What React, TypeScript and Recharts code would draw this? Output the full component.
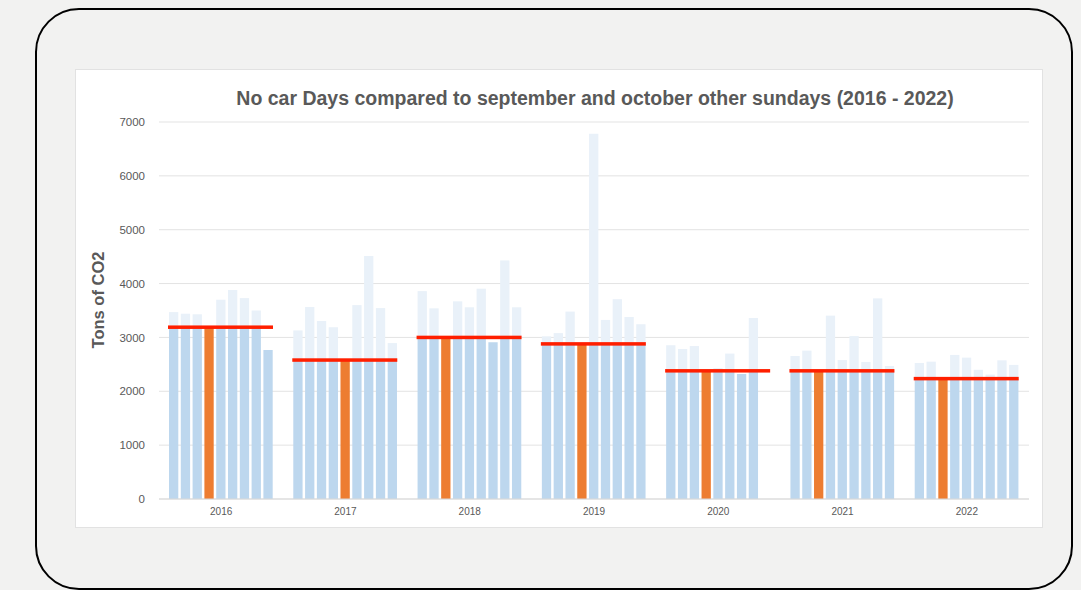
import React from 'react'
import { ComposedChart, XAxis, YAxis, CartesianGrid, Bar, Cell } from 'recharts'

// years on the category axis
const years = ['2016', '2017', '2018', '2019', '2020', '2021', '2022']

// CO2 on the no car day of each year (red line / orange bar)
const noCarDay = [3190, 2580, 3000, 2880, 2380, 2380, 2235]

// position of the no car day among that year's sundays
const noCarSlot = [3, 4, 2, 3, 3, 2, 2]

// other september / october sundays, null where the no car day sits
const sundays2016 = [3470, 3440, 3430, null, 3700, 3880, 3730, 3500, 2765]
const sundays2017 = [3130, 3565, 3305, 3190, null, 3600, 4510, 3545, 2895]
const sundays2018 = [3860, 3540, null, 3670, 3560, 3905, 2910, 4430, 3560]
const sundays2019 = [3020, 3080, 3480, null, 6780, 3325, 3710, 3380, 3245]
const sundays2020 = [2855, 2785, 2840, null, 2430, 2700, 2320, 3360, null]
const sundays2021 = [2655, 2755, null, 3405, 2580, 3025, 2545, 3725, 2470]
const sundays2022 = [2525, 2550, null, 2675, 2625, 2400, 2310, 2575, 2490]

const sundays = [sundays2016, sundays2017, sundays2018, sundays2019, sundays2020, sundays2021, sundays2022]

const yTicks = [0, 1000, 2000, 3000, 4000, 5000, 6000, 7000]

const SLOTS = 9

const BLUE = '#bdd7ee'
const PALE = '#e9f1f9'
const ORANGE = '#ed7d31'
const RED = '#ff1f00'
const TEXT = '#595959'

// below the no car level is shaded blue, whatever is above is pale
const data = years.map((year, i) => {
  const row: any = { year, noCar: noCarDay[i] }
  for (let s = 0; s < SLOTS; s++) {
    if (s === noCarSlot[i]) {
      row[`b${s}`] = noCarDay[i]
      row[`e${s}`] = 0
      continue
    }
    const v = sundays[i][s]
    if (v == null) {
      row[`b${s}`] = null
      row[`e${s}`] = null
    } else {
      row[`b${s}`] = Math.min(v, noCarDay[i])
      row[`e${s}`] = Math.max(v - noCarDay[i], 0)
    }
  }
  return row
})

const RedLine = (props: any) => {
  const { x, y, width } = props
  if (x == null || y == null) return null
  return <rect x={x - 1} y={y - 1.75} width={width} height={3.5} fill={RED} />
}

export default function App() {
  const slots = Array.from({ length: SLOTS }, (_, s) => s)

  return (
    <div style={{ position: 'fixed', left: 0, top: 0, width: 1081, height: 590, background: '#f2f2f1', overflow: 'hidden' }}>
      <div
        style={{
          position: 'absolute',
          left: 35,
          top: 8,
          width: 1037.5,
          height: 582,
          border: '2.6px solid #000',
          borderRadius: 44,
          boxSizing: 'border-box',
        }}
      />
      <div
        style={{
          position: 'absolute',
          left: 75,
          top: 69,
          width: 968,
          height: 459,
          background: '#fff',
          border: '1px solid #e2e2e2',
          boxSizing: 'border-box',
          fontFamily: '"Liberation Sans", Arial, sans-serif',
        }}
      >
        <div
          style={{
            position: 'absolute',
            left: 84,
            width: 870,
            top: 17,
            textAlign: 'center',
            fontSize: 19.5,
            fontWeight: 'bold',
            color: TEXT,
            whiteSpace: 'nowrap',
          }}
        >
          No car Days compared to september and october other sundays (2016 - 2022)
        </div>
        <div
          style={{
            position: 'absolute',
            left: 22,
            top: 230,
            transform: 'translate(-50%, -50%) rotate(-90deg)',
            fontSize: 16.5,
            fontWeight: 'bold',
            color: TEXT,
            whiteSpace: 'nowrap',
          }}
        >
          Tons of CO2
        </div>
        <ComposedChart
          width={966}
          height={457}
          data={data}
          barGap={2.5}
          margin={{ top: 52, right: 13, left: 23, bottom: 0 }}
          style={{ position: 'absolute', left: 0, top: 0 }}
        >
          <CartesianGrid vertical={false} stroke="#e3e3e3" />
          <XAxis
            dataKey="year"
            height={28}
            axisLine={{ stroke: '#d9d9d9' }}
            tickLine={false}
            tickSize={0}
            tickMargin={9}
            tick={{ fill: TEXT, fontSize: 10 }}
          />
          <XAxis xAxisId="line" dataKey="year" height={0} hide />
          <YAxis
            width={60}
            domain={[0, 7000]}
            ticks={yTicks}
            axisLine={false}
            tickLine={false}
            tickSize={0}
            tickMargin={14}
            tick={{ fill: TEXT, fontSize: 11.5 }}
          />
          {slots.map((s) => (
            <Bar
              key={`b${s}`}
              dataKey={`b${s}`}
              stackId={`s${s}`}
              barSize={9.3}
              fill={BLUE}
              isAnimationActive={false}
            >
              {data.map((_, i) => (
                <Cell key={`c${s}-${i}`} fill={noCarSlot[i] === s ? ORANGE : BLUE} />
              ))}
            </Bar>
          ))}
          {slots.map((s) => (
            <Bar
              key={`e${s}`}
              dataKey={`e${s}`}
              stackId={`s${s}`}
              barSize={9.3}
              fill={PALE}
              isAnimationActive={false}
            />
          ))}
          <Bar
            xAxisId="line"
            dataKey="noCar"
            barSize={105}
            shape={<RedLine />}
            isAnimationActive={false}
          />
        </ComposedChart>
      </div>
    </div>
  )
}
